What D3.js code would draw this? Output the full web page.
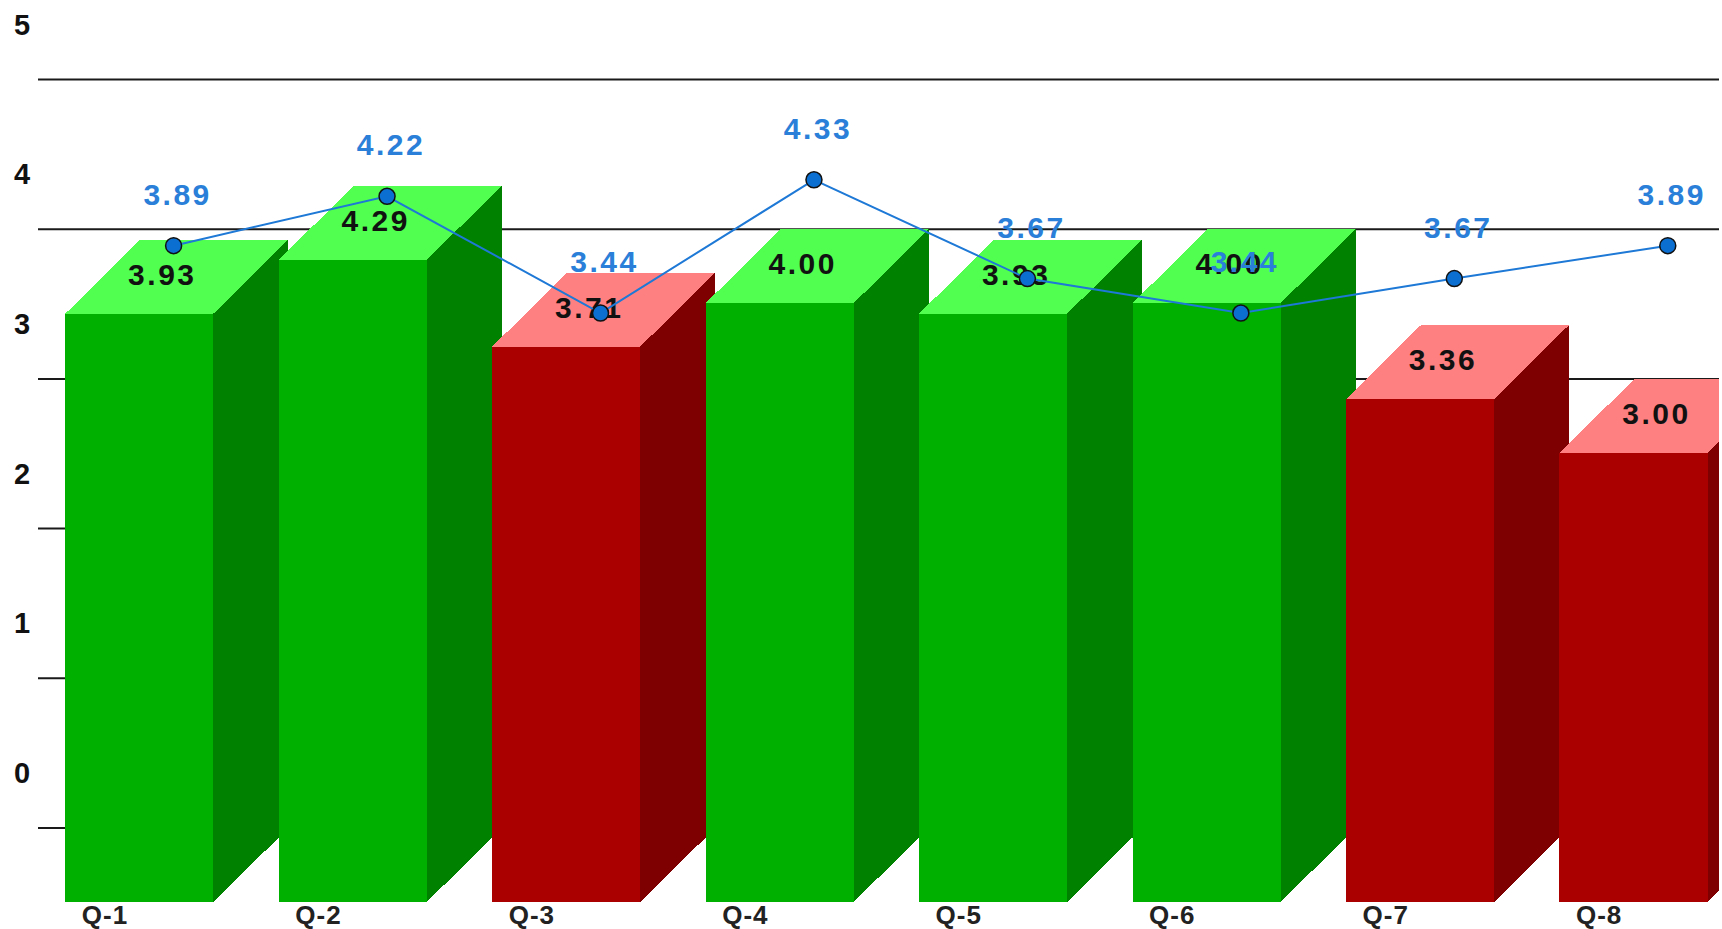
<!DOCTYPE html>
<html>
<head>
<meta charset="utf-8">
<script src="https://cdn.jsdelivr.net/npm/d3@7"></script>
<style>
  html, body { margin: 0; padding: 0; background: #fff; }
  svg { display: block; }
  text { font-family: "Liberation Sans", Arial, Helvetica, sans-serif; font-weight: bold; }
</style>
</head>
<body>
<svg id="chart" width="1722" height="929"></svg>
<script>
// Question scores (bars) and reference averages (line)
const categories = ["Q-1", "Q-2", "Q-3", "Q-4", "Q-5", "Q-6", "Q-7", "Q-8"];
const scores = [3.93, 4.29, 3.71, 4.00, 3.93, 4.00, 3.36, 3.00];
const averages = [3.89, 4.22, 3.44, 4.33, 3.67, 3.44, 3.67, 3.89];
const yTicks = [0, 1, 2, 3, 4, 5];

// Scores at or above the target are green, below it red
const target = 3.8;
const palettes = {
  up:   { front: "#00b000", top: "#50ff50", side: "#008200" },
  down: { front: "#ab0000", top: "#ff8080", side: "#7f0000" }
};

const W = 1722, H = 929;
const plotRight = 1719;
const depthX = 75, depthY = 74;   // 3D extrusion offset of the back wall

const svg = d3.select("#chart");

svg.append("defs").append("clipPath").attr("id", "plot-clip")
  .append("rect").attr("x", 0).attr("y", 0).attr("width", plotRight).attr("height", H);

const x = d3.scaleBand()
  .domain(categories)
  .range([65.3, 1707.5])
  .paddingInner(0.3065)
  .paddingOuter(0);

const y = d3.scaleLinear()
  .domain([0, 5])
  .range([902, 902 - 5 * 149.7]);

const bw = x.bandwidth();

const plot = svg.append("g").attr("clip-path", "url(#plot-clip)");

// Gridlines sit on the back wall
const grid = plot.append("g");
grid.selectAll("line")
  .data(yTicks)
  .join("line")
  .attr("x1", 38)
  .attr("x2", W)
  .attr("y1", d => y(d) - depthY)
  .attr("y2", d => y(d) - depthY)
  .attr("stroke", "#1a1a1a")
  .attr("stroke-width", 2);

svg.append("g").selectAll("text")
  .data(yTicks)
  .join("text")
  .attr("x", 22)
  .attr("y", d => y(d) - depthY - 45)
  .attr("text-anchor", "middle")
  .attr("font-size", 29)
  .attr("fill", "#111")
  .text(d => d);

// 3D bars, drawn left to right so each covers the side of the previous one
const rows = categories.map((c, i) => ({ cat: c, v: scores[i], avg: averages[i] }));

plot.append("g").selectAll("g")
  .data(rows)
  .join("g")
  .attr("shape-rendering", "crispEdges")
  .each(function (d) {
    const g = d3.select(this);
    const pal = d.v >= target ? palettes.up : palettes.down;
    const x0 = x(d.cat), x1 = x0 + bw;
    const yt = y(d.v), yb = y(0);
    // side face
    g.append("path")
      .attr("d", `M${x1},${yt} L${x1 + depthX},${yt - depthY} L${x1 + depthX},${yb - depthY} L${x1},${yb} Z`)
      .attr("fill", pal.side);
    // top face
    g.append("path")
      .attr("d", `M${x0},${yt} L${x0 + depthX},${yt - depthY} L${x1 + depthX},${yt - depthY} L${x1},${yt} Z`)
      .attr("fill", pal.top);
    // front face
    g.append("rect")
      .attr("x", x0)
      .attr("y", yt)
      .attr("width", bw)
      .attr("height", yb - yt)
      .attr("fill", pal.front);
  });

// Score labels on the top faces
plot.append("g").selectAll("text")
  .data(rows)
  .join("text")
  .attr("x", d => x(d.cat) + bw / 2 + 23)
  .attr("y", d => y(d.v) - 29)
  .attr("text-anchor", "middle")
  .attr("font-size", 30)
  .attr("letter-spacing", 2.5)
  .attr("fill", "#111")
  .text(d => d.v.toFixed(2));

// Category labels
svg.append("g").selectAll("text")
  .data(categories)
  .join("text")
  .attr("x", d => x(d) + 16.5)
  .attr("y", 924)
  .attr("font-size", 26)
  .attr("letter-spacing", 1)
  .attr("fill", "#222")
  .text(d => d);

// Average line on the back wall
const px = c => x(c) + 108.3;
const py = v => y(v) - depthY;

const line = d3.line()
  .x((d, i) => px(categories[i]))
  .y(d => py(d));

plot.append("path")
  .datum(averages)
  .attr("d", line)
  .attr("fill", "none")
  .attr("stroke", "#1d78d6")
  .attr("stroke-width", 2);

plot.append("g").selectAll("circle")
  .data(averages)
  .join("circle")
  .attr("cx", (d, i) => px(categories[i]))
  .attr("cy", d => py(d))
  .attr("r", 8)
  .attr("fill", "#0b6fd1")
  .attr("stroke", "#111")
  .attr("stroke-width", 1.5);

plot.append("g").selectAll("text")
  .data(averages)
  .join("text")
  .attr("x", (d, i) => px(categories[i]) + 4)
  .attr("y", d => py(d) - 41)
  .attr("text-anchor", "middle")
  .attr("font-size", 30)
  .attr("letter-spacing", 2.5)
  .attr("fill", "#2a80d8")
  .text(d => d.toFixed(2));
</script>
</body>
</html>
